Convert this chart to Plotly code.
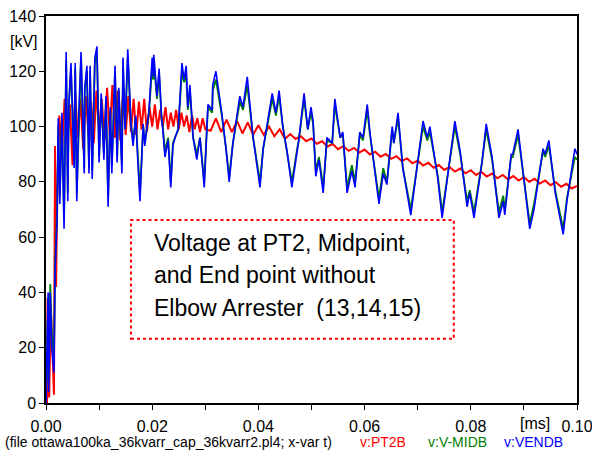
import plotly.graph_objects as go

# time axis in ms, voltages in kV
t_pt2 = [0.0, 0.0002, 0.0003, 0.0006, 0.0009, 0.0013, 0.0015, 0.0017, 0.0019, 0.0021,
         0.0025, 0.0030, 0.0035, 0.0040, 0.0045, 0.0050, 0.0055, 0.0060, 0.0065, 0.0070,
         0.0075, 0.0080, 0.0085, 0.0090, 0.0095, 0.0100, 0.0105, 0.0110, 0.0115, 0.0120,
         0.0125, 0.0130, 0.0135, 0.0140, 0.0145, 0.0150, 0.0155, 0.0160, 0.0165, 0.0170,
         0.0175, 0.0180, 0.0185, 0.0190, 0.0195, 0.0200, 0.0205, 0.0210, 0.0215, 0.0220,
         0.0225, 0.0230, 0.0235, 0.0240, 0.0245, 0.0250, 0.0255, 0.0260, 0.0265, 0.0270,
         0.0275, 0.0280, 0.0285, 0.0290, 0.0295, 0.0300,
         0.031, 0.032, 0.033, 0.034, 0.035, 0.036, 0.037, 0.038, 0.039, 0.040,
         0.041, 0.042, 0.043, 0.044, 0.045, 0.046, 0.047, 0.048, 0.049, 0.050,
         0.051, 0.052, 0.053, 0.054, 0.055, 0.056, 0.057, 0.058, 0.059, 0.060,
         0.061, 0.062, 0.063, 0.064, 0.065, 0.066, 0.067, 0.068, 0.069, 0.070,
         0.071, 0.072, 0.073, 0.074, 0.075, 0.076, 0.077, 0.078, 0.079, 0.080,
         0.081, 0.082, 0.083, 0.084, 0.085, 0.086, 0.087, 0.088, 0.089, 0.090,
         0.091, 0.092, 0.093, 0.094, 0.095, 0.096, 0.097, 0.098, 0.099, 0.100]
v_pt2 = [0, 0, 38, 2, 35, 15, 3, 93, 42, 75,
         104, 90, 110, 95, 108, 86, 112, 96, 110, 92,
         111, 97, 109, 94, 113, 98, 110, 95, 114, 97,
         115, 96, 113, 95, 112, 97, 111, 98, 110, 97,
         109, 99, 110, 98, 107, 100, 108, 99, 106, 100,
         107, 99, 105, 100, 106, 99, 105, 100, 104, 98,
         104, 99, 103, 98, 103, 99,
         98.5, 103, 98, 102.5, 98, 102, 97.5, 101.5, 97, 100.5,
         97, 100, 96.5, 99, 95.5, 97.3, 95.5, 96.5, 94.7, 95.7,
         93.8, 94.7, 92.8, 93.7, 91.8, 92.9, 91.2, 92.3, 90.6, 91.7,
         89.9, 90.9, 89.1, 90.1, 88.3, 89.3, 87.5, 88.5, 86.7, 87.7,
         85.9, 86.9, 85.1, 86.1, 84.3, 85.4, 83.7, 84.8, 83.1, 84.2,
         82.5, 83.6, 81.9, 83.0, 81.3, 82.5, 80.9, 82.1, 80.5, 81.7,
         80.0, 81.1, 79.4, 80.5, 78.8, 79.9, 78.2, 79.3, 77.6, 78.5]

t_line = [0.0, 0.0004, 0.0005, 0.0008, 0.0011, 0.0015, 0.0017, 0.0021, 0.0023, 0.0026,
          0.0030, 0.0034, 0.0038, 0.0041, 0.0043, 0.0047, 0.0053, 0.0055, 0.0058, 0.0062,
          0.0066, 0.0072, 0.0073, 0.0077, 0.0081, 0.0083, 0.0087, 0.0092, 0.0096, 0.0100,
          0.0104, 0.0109, 0.0113, 0.0117, 0.0121, 0.0124, 0.0130, 0.0134, 0.0137, 0.0143,
          0.0145, 0.0149, 0.0154, 0.0160, 0.0164, 0.0169, 0.0173, 0.0177, 0.0183, 0.0186,
          0.0194, 0.0200, 0.0202, 0.0203, 0.0209, 0.0213, 0.0218, 0.0220, 0.0224, 0.0230,
          0.0235, 0.0239, 0.0243, 0.0249, 0.0256, 0.0260, 0.0264, 0.0267, 0.0271, 0.0277,
          0.0284, 0.0290, 0.0298, 0.0305, 0.0313, 0.0314, 0.0320, 0.0331, 0.0339, 0.0345,
          0.0352, 0.0365, 0.0371, 0.0379, 0.0390, 0.0403, 0.0409, 0.0426, 0.0433, 0.0439,
          0.0446, 0.0454, 0.0463, 0.0473, 0.0476, 0.0486, 0.0493, 0.0499, 0.0503, 0.0508,
          0.0514, 0.0522, 0.0529, 0.0539, 0.0544, 0.0554, 0.0559, 0.0567, 0.0576, 0.0582,
          0.0591, 0.0597, 0.0605, 0.0610, 0.0627, 0.0635, 0.0642, 0.0652, 0.0655, 0.0663,
          0.0672, 0.0687, 0.0697, 0.0708, 0.0710, 0.0718, 0.0723, 0.0738, 0.0746, 0.0770,
          0.0780, 0.0793, 0.0798, 0.0806, 0.0821, 0.0829, 0.0840, 0.0853, 0.0861, 0.0864,
          0.0876, 0.0879, 0.0889, 0.0911, 0.0919, 0.0936, 0.0940, 0.0947, 0.0959, 0.0974,
          0.0981, 0.0996, 0.1000]
v_mid = [0, 38, 8, 43, 25, 15, 50, 70, 100, 75,
         103, 66, 124, 76, 107, 121, 87, 121, 76, 105,
         125, 85, 113, 120, 85, 120, 84, 123, 126, 89,
         110, 90, 110, 74, 106, 86, 120, 89, 113, 86,
         122, 99, 125, 101, 95, 103, 89, 76, 100, 94,
         105, 122, 117, 123, 110, 119, 102, 100, 91, 96,
         80, 94, 96, 99, 120, 116, 119, 106, 113, 96,
         90, 96, 80, 107, 105, 113, 117, 104, 92, 82,
         94, 109, 106, 115, 96, 80, 92, 110, 104, 111,
         100, 91, 80, 92, 95, 110, 99, 105, 101, 84,
         89, 78, 95, 94, 108, 96, 97, 78, 86, 80,
         97, 95, 106, 97, 74, 85, 80, 99, 94, 103,
         85, 70, 83, 98, 100, 95, 98, 82, 69, 100,
         90, 73, 77, 69, 87, 99, 88, 69, 75, 70,
         89, 89, 97, 65, 72, 91, 89, 93, 77, 63,
         74, 89, 88]
v_end = [0, 40, 4, 40, 20, 11, 48, 67, 103, 72,
         105, 63, 127, 73, 108, 123, 85, 123, 73, 106,
         127, 83, 114, 122, 83, 122, 81, 125, 129, 87,
         112, 88, 111, 71, 107, 83, 122, 87, 114, 83,
         125, 99, 128, 101, 93, 104, 87, 73, 101, 93,
         106, 125, 118, 126, 111, 121, 102, 99, 89, 95,
         78, 93, 96, 99, 123, 117, 122, 107, 115, 96,
         88, 96, 78, 108, 106, 115, 120, 105, 92, 80,
         94, 111, 107, 118, 96, 78, 92, 112, 105, 113,
         100, 91, 78, 92, 95, 112, 99, 107, 102, 82,
         88, 76, 96, 94, 110, 96, 98, 76, 84, 78,
         98, 96, 108, 98, 72, 83, 79, 100, 94, 105,
         85, 68, 82, 99, 102, 96, 100, 81, 67, 102,
         91, 71, 76, 67, 87, 101, 89, 67, 73, 68,
         90, 90, 99, 63, 70, 92, 90, 95, 76, 61,
         73, 92, 90]

x_ticks = [0.0, 0.01, 0.02, 0.03, 0.04, 0.05, 0.06, 0.07, 0.08, 0.09, 0.10]
x_labels = ["0.00", "", "0.02", "", "0.04", "", "0.06", "", "0.08", "", "0.10"]
y_ticks = [0, 20, 40, 60, 80, 100, 120, 140]

box_lines = ["Voltage at PT2, Midpoint,", "and End point without", "Elbow Arrester  (13,14,15)"]

FONT = "Liberation Sans, Arial"

fig = go.Figure()
fig.add_trace(go.Scatter(x=t_pt2, y=v_pt2, mode="lines", name="v:PT2B",
                         line=dict(color="#ff0000", width=2)))
fig.add_trace(go.Scatter(x=t_line, y=v_mid, mode="lines", name="v:V-MIDB",
                         line=dict(color="#008000", width=1.8)))
fig.add_trace(go.Scatter(x=t_line, y=v_end, mode="lines", name="v:VENDB",
                         line=dict(color="#0000ff", width=1.6)))

# annotation box
fig.add_shape(type="rect", x0=0.0160, x1=0.0768, y0=23.2, y1=66.2, xref="x", yref="y",
              line=dict(color="#ff0000", width=2, dash="dot"))
for txt, yv in zip(box_lines, [57.9, 46.3, 34.4]):
    fig.add_annotation(x=0.0200, y=yv, text=txt, showarrow=False, xanchor="left",
                       yanchor="middle", font=dict(family=FONT, size=23, color="black"))

fig.add_annotation(xref="paper", yref="y", x=-0.011, y=130.6, text="[kV]", showarrow=False,
                   xanchor="right", yanchor="middle", font=dict(family=FONT, size=16, color="black"))
fig.add_annotation(xref="x", yref="paper", x=0.0920, y=0, yshift=-20, text="[ms]", showarrow=False,
                   xanchor="center", yanchor="middle", font=dict(family=FONT, size=16, color="black"))

footer = [("(file ottawa100ka_36kvarr_cap_36kvarr2.pl4; x-var t)", -0.081, "black"),
          ("v:PT2B", 0.5876, "#ff0000"),
          ("v:V-MIDB", 0.7156, "#008000"),
          ("v:VENDB", 0.8588, "#0000ff")]
for txt, xp, col in footer:
    fig.add_annotation(xref="paper", yref="paper", x=xp, y=0, yshift=-39, text=txt, showarrow=False,
                       xanchor="left", yanchor="middle", font=dict(family=FONT, size=14, color=col))

fig.update_layout(
    width=592, height=466,
    margin=dict(l=46, r=15, t=16, b=63),
    paper_bgcolor="white", plot_bgcolor="white",
    showlegend=False,
    font=dict(family=FONT, size=16, color="black"),
)
fig.update_xaxes(range=[0, 0.1], tickvals=x_ticks, ticktext=x_labels, automargin=False,
                 ticklabeloverflow="allow", ticklabelstandoff=3,
                 showgrid=False, zeroline=False, showline=True, linecolor="black", linewidth=1.5,
                 mirror=True, ticks="outside", ticklen=5, tickcolor="black")
fig.update_yaxes(range=[0, 140], tickvals=y_ticks, automargin=False,
                 ticklabeloverflow="allow",
                 showgrid=False, zeroline=False, showline=True, linecolor="black", linewidth=1.5,
                 mirror=True, ticks="outside", ticklen=5, tickcolor="black")

# drop the default 8px page margin so the figure sits at the window's corner
fig.write_html("out.html", config={"displayModeBar": False},
               post_script="document.body.style.margin='0';document.body.style.overflow='hidden';")
